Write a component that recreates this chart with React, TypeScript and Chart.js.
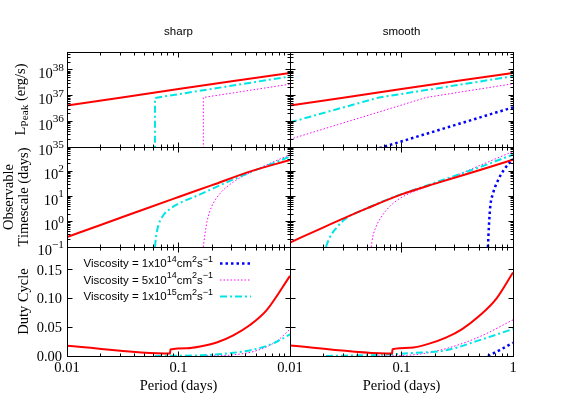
import React, { useEffect, useRef } from "react";
import { Chart, registerables } from "chart.js";

Chart.register(...registerables);

const W = 581;
const H = 407;

// ---------------- data ----------------
const columnTitles = ["sharp", "smooth"];
const xAxisTitle = "Period (days)";
const periodTickValues = [0.01, 0.1, 1];
const periodTickLabels = ["0.01", "0.1", "1"];
const peakTickExponents = [35, 36, 37, 38];
const timeTickExponents = [-1, 0, 1, 2];
const dutyTickValues = [0, 0.05, 0.1, 0.15];
const dutyTickLabels = ["0.00", "0.05", "0.10", "0.15"];
const viscosityMantissas = ["1", "5", "1"];
const viscosityExponents = ["14", "14", "15"];

// Peak luminosity (erg/s) vs period (days)
const peakRedP = [0.01, 0.03, 0.1, 0.3, 1];
const peakRedL = [4.1e36, 8.2e36, 1.8e37, 3.6e37, 7.7e37];
const peakSharpCyanP = [0.0615, 0.0615, 1];
const peakSharpCyanL = [1e34, 8.1e36, 5.6e37];
const peakSharpMagentaP = [0.167, 0.167, 1];
const peakSharpMagentaL = [1e34, 8.5e36, 2.8e37];
const peakSmoothCyanP = [0.01, 0.0615, 1];
const peakSmoothCyanL = [9.1e35, 8.3e36, 5.7e37];
const peakSmoothMagentaP = [0.01, 0.167, 1];
const peakSmoothMagentaL = [2.0e35, 8.5e36, 2.9e37];
const peakSmoothBlueP = [0.01, 1];
const peakSmoothBlueL = [7.8e33, 3.5e36];

// Observable timescale (days) vs period (days)
const timeSharpRedP = [0.01, 0.02, 0.05, 0.1, 0.2, 0.45, 1];
const timeSharpRedT = [0.25, 0.74, 3.2, 9.5, 28, 100, 275];
const timeSharpCyanP = [0.0615, 0.0628, 0.0659, 0.0731, 0.0839, 0.103, 0.156, 0.27, 0.453, 1];
const timeSharpCyanT = [0.1, 0.24, 0.7, 1.8, 3.2, 5.5, 12, 36, 95, 375];
const timeSharpMagentaP = [0.167, 0.173, 0.1815, 0.198, 0.2355, 0.31, 0.469, 1];
const timeSharpMagentaT = [0.1, 0.35, 1.17, 3.9, 12.9, 37, 100, 450];
const timeSmoothRedP = [0.01, 0.02, 0.05, 0.1, 0.2, 0.45, 1];
const timeSmoothRedT = [0.15, 0.6, 3.5, 12, 32, 95, 280];
const timeSmoothCyanP = [0.021, 0.0225, 0.0259, 0.0318, 0.045, 0.0634, 0.078, 0.1265, 0.252, 0.502, 1];
const timeSmoothCyanT = [0.1, 0.22, 0.55, 1.36, 2.9, 5.6, 8.2, 17.5, 50, 143, 450];
const timeSmoothMagentaP = [0.0535, 0.0553, 0.0592, 0.0656, 0.078, 0.096, 0.1265, 0.252, 0.502, 1];
const timeSmoothMagentaT = [0.1, 0.26, 0.64, 1.49, 3.9, 8.2, 15, 46, 166, 600];
const timeSmoothBlueP = [0.596, 0.608, 0.625, 0.661, 0.733, 0.841, 1];
const timeSmoothBlueT = [0.1, 0.65, 3.9, 12.9, 43, 123, 300];

// Duty cycle vs period (days)
const dutySharpRedP = [0.01, 0.084, 0.0845, 0.12, 0.156, 0.22, 0.31, 0.4375, 0.618, 1];
const dutySharpRedD = [0.0177, 0.0042, 0.0113, 0.0135, 0.0165, 0.0235, 0.036, 0.054, 0.08, 0.1396];
const dutySharpCyanP = [0.0615, 0.156, 0.31, 0.538, 0.76, 1];
const dutySharpCyanD = [0, 0.0012, 0.0055, 0.014, 0.0248, 0.0377];
const dutySharpMagentaP = [0.167, 0.31, 0.538, 0.76, 1];
const dutySharpMagentaD = [0, 0.002, 0.0112, 0.026, 0.0466];
const dutySmoothRedP = [0.01, 0.0824, 0.083, 0.12, 0.18, 0.25, 0.35, 0.5, 0.71, 1];
const dutySmoothRedD = [0.0184, 0.0042, 0.0119, 0.0145, 0.022, 0.032, 0.047, 0.07, 0.1, 0.1456];
const dutySmoothCyanP = [0.021, 0.063, 0.126, 0.252, 0.502, 1];
const dutySmoothCyanD = [0, 0.002, 0.0052, 0.01, 0.0277, 0.047];
const dutySmoothMagentaP = [0.0535, 0.126, 0.252, 0.502, 1];
const dutySmoothMagentaD = [0, 0.002, 0.013, 0.0336, 0.063];
const dutySmoothBlueP = [0.596, 0.76, 1];
const dutySmoothBlueD = [0, 0.0104, 0.023];

// ---------------- layout & style ----------------
const SERIF = "'Liberation Serif', 'Times New Roman', Times, serif";
const SANS = "'Liberation Sans', Arial, Helvetica, sans-serif";
const TICK_FONT = 14.5;
const SANS_FONT = 11.5;
const MAJOR = 5;
const MINOR = 3;

const COLS = [
  { left: 67, right: 290 },
  { left: 290, right: 513 },
];
const ROWS = [
  { top: 52, bottom: 147 },
  { top: 147, bottom: 247 },
  { top: 247, bottom: 356 },
];

const LINE_STYLES: Record<string, any> = {
  red: { borderColor: "#ff0000", borderWidth: 2, borderDash: [] },
  magenta: { borderColor: "#ff00ff", borderWidth: 1, borderDash: [1.5, 2] },
  cyan: { borderColor: "#00e5e5", borderWidth: 2, borderDash: [7, 3, 2, 3] },
  blue: { borderColor: "#0000ff", borderWidth: 2.5, borderDash: [2.5, 3] },
};

type Part = { t: string; k?: "sup" | "sub" };

function series(P: number[], V: number[], style: string, smooth: boolean) {
  return {
    data: P.map((x, i) => ({ x, y: V[i] })),
    ...LINE_STYLES[style],
    fill: false,
    pointRadius: 0,
    tension: 0,
    cubicInterpolationMode: smooth ? "monotone" : "default",
    borderCapStyle: "butt",
  };
}

type PanelSpec = {
  id: string;
  col: number;
  row: number;
  yType: "logarithmic" | "linear";
  yMin: number;
  yMax: number;
  datasets: any[];
};

const PANELS: PanelSpec[] = [
  {
    id: "peak-sharp", col: 0, row: 0, yType: "logarithmic", yMin: 1e35, yMax: 5e38,
    datasets: [
      series(peakRedP, peakRedL, "red", false),
      series(peakSharpCyanP, peakSharpCyanL, "cyan", false),
      series(peakSharpMagentaP, peakSharpMagentaL, "magenta", false),
    ],
  },
  {
    id: "peak-smooth", col: 1, row: 0, yType: "logarithmic", yMin: 1e35, yMax: 5e38,
    datasets: [
      series(peakRedP, peakRedL, "red", false),
      series(peakSmoothCyanP, peakSmoothCyanL, "cyan", false),
      series(peakSmoothMagentaP, peakSmoothMagentaL, "magenta", false),
      series(peakSmoothBlueP, peakSmoothBlueL, "blue", false),
    ],
  },
  {
    id: "time-sharp", col: 0, row: 1, yType: "logarithmic", yMin: 0.1, yMax: 900,
    datasets: [
      series(timeSharpRedP, timeSharpRedT, "red", true),
      series(timeSharpCyanP, timeSharpCyanT, "cyan", true),
      series(timeSharpMagentaP, timeSharpMagentaT, "magenta", true),
    ],
  },
  {
    id: "time-smooth", col: 1, row: 1, yType: "logarithmic", yMin: 0.1, yMax: 900,
    datasets: [
      series(timeSmoothRedP, timeSmoothRedT, "red", true),
      series(timeSmoothCyanP, timeSmoothCyanT, "cyan", true),
      series(timeSmoothMagentaP, timeSmoothMagentaT, "magenta", true),
      series(timeSmoothBlueP, timeSmoothBlueT, "blue", true),
    ],
  },
  {
    id: "duty-sharp", col: 0, row: 2, yType: "linear", yMin: 0, yMax: 0.19,
    datasets: [
      series(dutySharpRedP, dutySharpRedD, "red", true),
      series(dutySharpCyanP, dutySharpCyanD, "cyan", true),
      series(dutySharpMagentaP, dutySharpMagentaD, "magenta", true),
    ],
  },
  {
    id: "duty-smooth", col: 1, row: 2, yType: "linear", yMin: 0, yMax: 0.19,
    datasets: [
      series(dutySmoothRedP, dutySmoothRedD, "red", true),
      series(dutySmoothCyanP, dutySmoothCyanD, "cyan", true),
      series(dutySmoothMagentaP, dutySmoothMagentaD, "magenta", true),
      series(dutySmoothBlueP, dutySmoothBlueD, "blue", true),
    ],
  },
];

const yTitles: Part[][][] = [
  [[{ t: "L" }, { t: "Peak", k: "sub" }, { t: " (erg/s)" }]],
  [[{ t: "Observable" }], [{ t: "Timescale (days)" }]],
  [[{ t: "Duty Cycle" }]],
];
const yTitleX = [[20], [8, 23], [23]];

// ---------------- helpers ----------------
function logTicks(min: number, max: number) {
  const out: { v: number; major: boolean }[] = [];
  const d0 = Math.floor(Math.log10(min));
  const d1 = Math.ceil(Math.log10(max));
  for (let d = d0; d <= d1; d++) {
    for (let m = 1; m <= 9; m++) {
      const v = m * Math.pow(10, d);
      if (v >= min * (1 - 1e-9) && v <= max * (1 + 1e-9)) out.push({ v, major: m === 1 });
    }
  }
  return out;
}

function drawRich(
  ctx: CanvasRenderingContext2D,
  parts: Part[],
  x: number,
  y: number,
  align: "left" | "right" | "center",
  size: number,
  family: string,
) {
  const small = size * 0.78;
  const ws: number[] = [];
  let total = 0;
  for (const p of parts) {
    ctx.font = `${p.k ? small : size}px ${family}`;
    const w = ctx.measureText(p.t).width;
    ws.push(w);
    total += w;
  }
  let cx = align === "left" ? x : align === "right" ? x - total : x - total / 2;
  const base = y + size * 0.33;
  ctx.fillStyle = "#000";
  ctx.textAlign = "left";
  ctx.textBaseline = "alphabetic";
  parts.forEach((p, i) => {
    ctx.font = `${p.k ? small : size}px ${family}`;
    const by = p.k === "sup" ? base - size * 0.5 : p.k === "sub" ? base + size * 0.25 : base;
    ctx.fillText(p.t, cx, by);
    cx += ws[i];
  });
}

const px = (v: number) => Math.floor(v + 1e-6) + 0.5;

function makeDeco(spec: PanelSpec) {
  return {
    id: "panelDeco",
    afterDatasetsDraw(chart: any) {
      const ctx: CanvasRenderingContext2D = chart.ctx;
      const { left, right, top, bottom } = chart.chartArea;
      const xs = chart.scales.x;
      const ys = chart.scales.y;
      const L = px(left), R = px(right), T = px(top), B = px(bottom);
      ctx.save();
      ctx.strokeStyle = "#000";
      ctx.lineWidth = 1;
      ctx.setLineDash([]);
      ctx.beginPath();
      for (const t of logTicks(periodTickValues[0], periodTickValues[periodTickValues.length - 1])) {
        const p = px(xs.getPixelForValue(t.v));
        const len = t.major ? MAJOR : MINOR;
        ctx.moveTo(p, B);
        ctx.lineTo(p, B - len);
        ctx.moveTo(p, T);
        ctx.lineTo(p, T + len);
      }
      const yt =
        spec.yType === "logarithmic"
          ? logTicks(spec.yMin, spec.yMax)
          : dutyTickValues.map((v) => ({ v, major: true }));
      for (const t of yt) {
        const p = px(ys.getPixelForValue(t.v));
        const len = t.major ? MAJOR : MINOR;
        ctx.moveTo(L, p);
        ctx.lineTo(L + len, p);
        ctx.moveTo(R, p);
        ctx.lineTo(R - len, p);
      }
      ctx.stroke();
      ctx.strokeRect(L, T, R - L, B - T);
      ctx.restore();
    },
    afterDraw(chart: any) {
      const ctx: CanvasRenderingContext2D = chart.ctx;
      const { left, right, top, bottom } = chart.chartArea;
      const xs = chart.scales.x;
      const ys = chart.scales.y;
      ctx.save();
      if (spec.row === 0) {
        drawRich(ctx, [{ t: columnTitles[spec.col] }], (left + right) / 2, 31, "center", SANS_FONT, SANS);
      }
      if (spec.col === 0) {
        if (spec.row === 0 || spec.row === 1) {
          const exps = spec.row === 0 ? peakTickExponents : timeTickExponents;
          for (const e of exps) {
            const p = ys.getPixelForValue(Math.pow(10, e));
            const es = e < 0 ? "\u2212" + Math.abs(e) : String(e);
            drawRich(ctx, [{ t: "10" }, { t: es, k: "sup" }], left - 3, p + 3.5, "right", TICK_FONT, SERIF);
          }
        } else {
          dutyTickValues.forEach((v, i) => {
            const p = ys.getPixelForValue(v);
            drawRich(ctx, [{ t: dutyTickLabels[i] }], left - 5, p, "right", TICK_FONT, SERIF);
          });
        }
        const cy = (top + bottom) / 2;
        yTitles[spec.row].forEach((line, i) => {
          ctx.save();
          ctx.translate(yTitleX[spec.row][i], cy);
          ctx.rotate(-Math.PI / 2);
          drawRich(ctx, line, 0, 0, "center", TICK_FONT, SERIF);
          ctx.restore();
        });
      }
      if (spec.row === 2) {
        periodTickValues.forEach((v, i) => {
          if (spec.col === 0 && i === periodTickValues.length - 1) return;
          const p = xs.getPixelForValue(v);
          drawRich(ctx, [{ t: periodTickLabels[i] }], p, bottom + 11, "center", TICK_FONT, SERIF);
        });
        drawRich(ctx, [{ t: xAxisTitle }], (left + right) / 2, bottom + 29, "center", TICK_FONT, SERIF);
      }
      if (spec.row === 2 && spec.col === 0) {
        const styles = ["blue", "magenta", "cyan"];
        const rowsY = [263.5, 280, 296.5];
        styles.forEach((s, i) => {
          const parts: Part[] = [
            { t: `Viscosity = ${viscosityMantissas[i]}x10` },
            { t: viscosityExponents[i], k: "sup" },
            { t: "cm" },
            { t: "2", k: "sup" },
            { t: "s" },
            { t: "\u22121", k: "sup" },
          ];
          drawRich(ctx, parts, 213, rowsY[i], "right", SANS_FONT, SANS);
          const st = LINE_STYLES[s];
          ctx.save();
          ctx.strokeStyle = st.borderColor;
          ctx.lineWidth = st.borderWidth;
          ctx.setLineDash(st.borderDash);
          ctx.beginPath();
          ctx.moveTo(220, rowsY[i]);
          ctx.lineTo(251, rowsY[i]);
          ctx.stroke();
          ctx.restore();
        });
      }
      ctx.restore();
    },
  };
}

function Panel({ spec }: { spec: PanelSpec }) {
  const ref = useRef<HTMLCanvasElement>(null);
  useEffect(() => {
    const canvas = ref.current;
    if (!canvas) return;
    const col = COLS[spec.col];
    const row = ROWS[spec.row];
    const chart = new Chart(canvas, {
      type: "line",
      data: { datasets: spec.datasets as any },
      options: {
        animation: false,
        responsive: false,
        devicePixelRatio: 1,
        events: [],
        layout: {
          padding: { left: col.left, top: row.top, right: W - col.right, bottom: H - row.bottom },
        },
        plugins: {
          legend: { display: false },
          tooltip: { enabled: false },
          title: { display: false },
        },
        scales: {
          x: {
            type: "logarithmic",
            min: periodTickValues[0],
            max: periodTickValues[periodTickValues.length - 1],
            display: false,
          },
          y: { type: spec.yType, min: spec.yMin, max: spec.yMax, display: false },
        },
      } as any,
      plugins: [makeDeco(spec)],
    });
    return () => chart.destroy();
  }, [spec]);
  return (
    <canvas
      ref={ref}
      width={W}
      height={H}
      style={{ position: "absolute", left: 0, top: 0, width: W, height: H }}
    />
  );
}

export default function App() {
  return (
    <div style={{ position: "absolute", left: 0, top: 0, width: W, height: H, background: "#fff" }}>
      {PANELS.map((p) => (
        <Panel key={p.id} spec={p} />
      ))}
    </div>
  );
}
